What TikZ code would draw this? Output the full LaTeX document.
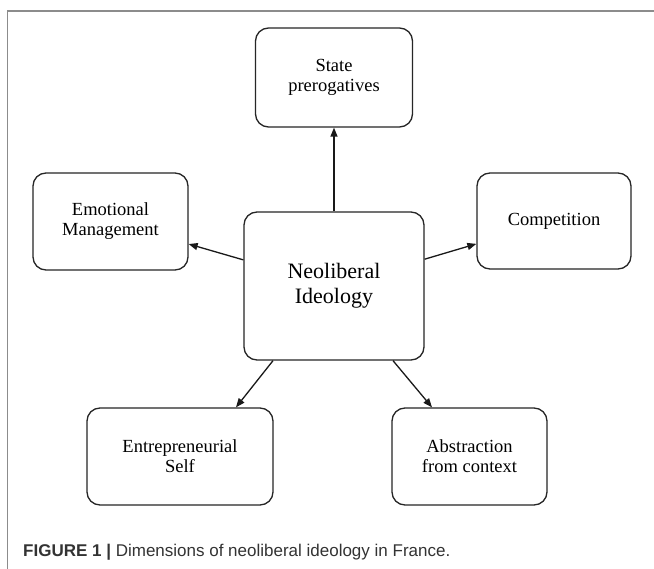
\documentclass[tikz,border=0pt]{standalone}
\usepackage{fontspec}
\setmainfont{Liberation Serif}
\newfontfamily\captionfont{Liberation Sans}
\usetikzlibrary{arrows.meta}

\begin{document}
\begin{tikzpicture}[
        %We set the units and define some styles
        x=1pt, y=-1pt,
        frame line/.style={line width=1.5pt, color=black!45},
        dimension/.style={draw=black!85, line width=1.3pt, rounded corners=13pt,
            align=center, inner sep=0pt,
            font=\fontsize{18.5}{20}\selectfont},
        core/.style={dimension, font=\fontsize{22}{25}\selectfont},
        link/.style={line width=1.3pt, draw=black!90,
            -{Triangle[length=9pt,width=7pt]}},
        every node/.style={color=black,},
]
    % Page size is fixed
    \useasboundingbox (0,0) rectangle (654,569);
    \fill[white] (0,0) rectangle (654,569);
    \draw[frame line] (7.5,600) -- (7.5,11) -- (680,11);

    % The central node
    \node[core, minimum width=180pt, minimum height=148pt] (ideology) at (334,286)
        {Neoliberal\\Ideology};

    % The five dimensions are added
    \node[dimension, minimum width=157pt, minimum height=99pt] (state) at (334,77.5)
        {State\\prerogatives};
    \node[dimension, minimum width=155pt, minimum height=97pt] (emotion) at (110.5,221.5)
        {Emotional\\Management};
    \node[dimension, minimum width=154pt, minimum height=96pt] (competition) at (554,221)
        {Competition};
    \node[dimension, minimum width=186pt, minimum height=97pt] (self) at (180,456.5)
        {Entrepreneurial\\Self};
    \node[dimension, minimum width=155pt, minimum height=97pt] (abstraction) at (469.5,456.5)
        {Abstraction\\from context};

    % Arrows from the ideology
    \draw[link] (ideology) -- (state);
    \draw[link] (ideology) -- (emotion);
    \draw[link] (ideology) -- (competition);
    \draw[link] ([xshift=-61pt]ideology.south) -- ([xshift=56pt]self.north);
    \draw[link] ([xshift=59pt]ideology.south) -- ([xshift=-37.5pt]abstraction.north);

    % The caption
    \node[anchor=base west, inner sep=0pt, text=black!80,
        font=\captionfont\fontsize{17}{20}\selectfont] (caption) at (23,556)
        {\textbf{FIGURE 1 |} Dimensions of neoliberal ideology in France.};
\end{tikzpicture}
\end{document}
